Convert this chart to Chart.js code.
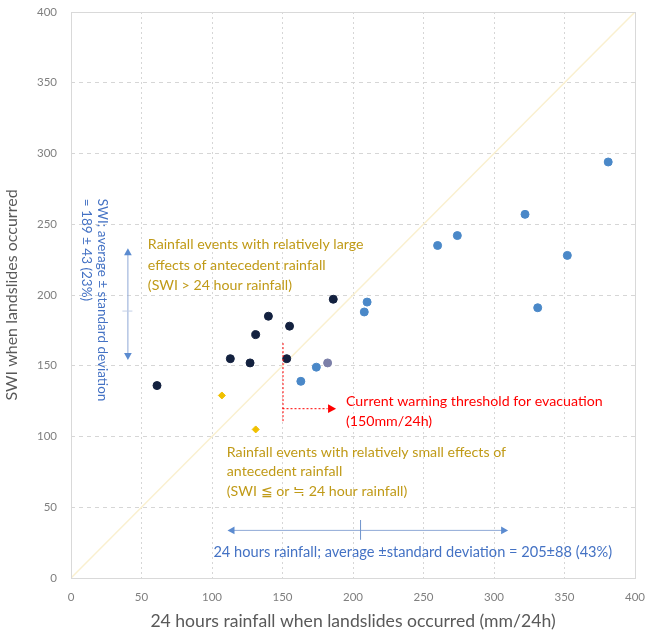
<!DOCTYPE html>
<html>
<head>
<meta charset="utf-8">
<script src="https://cdn.jsdelivr.net/npm/chart.js@4/dist/chart.umd.min.js"></script>
<style>
  html, body { margin: 0; padding: 0; background: #ffffff; }
  #wrap { width: 650px; height: 636px; position: relative; }
</style>
</head>
<body>
<div id="wrap"><canvas id="c"></canvas></div>
<script>
// Axis ticks (mm/24h and SWI share the same 0–400 range)
const axisTicks = [0, 50, 100, 150, 200, 250, 300, 350, 400];

// Events where SWI clearly exceeds 24 h rainfall
const navyRain = [61, 113, 127, 131, 140, 153, 155, 186];
const navySWI  = [136, 155, 152, 172, 185, 155, 178, 197];

// Other landslide events
const blueRain = [163, 174, 208, 210, 260, 274, 322, 331, 352, 381];
const blueSWI  = [139, 149, 188, 195, 235, 242, 257, 191, 228, 294];

// Event close to the 1:1 line
const grayRain = [182];
const graySWI  = [152];

// Events with small antecedent effect
const goldRain = [107, 131];
const goldSWI  = [129, 105];

// 1:1 reference line
const diagRain = [0, 400];
const diagSWI  = [0, 400];

// Summary statistics
const swiMean = 189, swiSD = 43;
const rainMean = 205, rainSD = 88;
const threshold = 150;

// Arrow extents as drawn on the figure
const swiArrowX = 40, swiArrowTop = 233, swiArrowBottom = 154;
const rainArrowY = 34, rainArrowLeft = 111, rainArrowRight = 310;

const pts = (xs, ys) => xs.map((x, i) => ({ x: x, y: ys[i] }));

const FONT = "Lato, 'Liberation Sans', sans-serif";

function arrowHead(ctx, x, y, angle, size) {
  ctx.save();
  ctx.translate(x, y);
  ctx.rotate(angle);
  ctx.beginPath();
  ctx.moveTo(0, 0);
  ctx.lineTo(-size, -size * 0.55);
  ctx.lineTo(-size, size * 0.55);
  ctx.closePath();
  ctx.fill();
  ctx.restore();
}

const annotations = {
  id: 'annotations',
  afterDatasetsDraw(chart) {
    const { ctx, chartArea: a } = chart;
    const xs = chart.scales.x, ys = chart.scales.y;
    const X = v => xs.getPixelForValue(v);
    const Y = v => ys.getPixelForValue(v);

    ctx.save();

    // plot frame
    ctx.strokeStyle = '#d9d9d9';
    ctx.lineWidth = 1;
    ctx.strokeRect(Math.round(a.left) + 0.5, Math.round(a.top) + 0.5,
                   Math.round(a.right - a.left), Math.round(a.bottom - a.top));

    // SWI mean ± SD (vertical double arrow)
    const blue = '#4472c4';
    ctx.strokeStyle = '#8fa9d6';
    ctx.fillStyle = '#5b8bd0';
    ctx.lineWidth = 1;
    ctx.beginPath();
    ctx.moveTo(X(swiArrowX) + 0.5, Y(swiArrowTop) + 4);
    ctx.lineTo(X(swiArrowX) + 0.5, Y(swiArrowBottom) - 4);
    ctx.stroke();
    arrowHead(ctx, X(swiArrowX) + 0.5, Y(swiArrowTop), -Math.PI / 2, 7);
    arrowHead(ctx, X(swiArrowX) + 0.5, Y(swiArrowBottom), Math.PI / 2, 7);
    ctx.strokeStyle = '#c3cfe6';
    ctx.beginPath();
    ctx.moveTo(X(swiArrowX) - 5, Y(swiMean) + 0.5);
    ctx.lineTo(X(swiArrowX) + 5, Y(swiMean) + 0.5);
    ctx.stroke();

    // rotated SWI statistics text
    ctx.fillStyle = blue;
    ctx.font = '13.5px ' + FONT;
    ctx.textAlign = 'left';
    ctx.textBaseline = 'middle';
    ctx.save();
    ctx.translate(X(22), Y(268));
    ctx.rotate(Math.PI / 2);
    ctx.fillText('SWI; average \u00b1 standard deviation', 0, 0);
    ctx.restore();
    ctx.save();
    ctx.translate(X(11), Y(268));
    ctx.rotate(Math.PI / 2);
    ctx.fillText('= ' + swiMean + ' \u00b1 ' + swiSD + ' (23%)', 0, 0);
    ctx.restore();

    // 24 h rainfall mean ± SD (horizontal double arrow)
    ctx.strokeStyle = '#8fa9d6';
    ctx.fillStyle = '#5b8bd0';
    ctx.beginPath();
    ctx.moveTo(X(rainArrowLeft) + 4, Y(rainArrowY) + 0.5);
    ctx.lineTo(X(rainArrowRight) - 4, Y(rainArrowY) + 0.5);
    ctx.stroke();
    arrowHead(ctx, X(rainArrowLeft), Y(rainArrowY) + 0.5, Math.PI, 7);
    arrowHead(ctx, X(rainArrowRight), Y(rainArrowY) + 0.5, 0, 7);
    ctx.strokeStyle = '#6f93cc';
    ctx.beginPath();
    ctx.moveTo(X(rainMean) + 0.5, Y(rainArrowY + 7));
    ctx.lineTo(X(rainMean) + 0.5, Y(rainArrowY - 7));
    ctx.stroke();

    ctx.fillStyle = blue;
    ctx.font = '14.6px ' + FONT;
    ctx.textBaseline = 'middle';
    ctx.fillText('24 hours rainfall; average \u00b1standard deviation = ' + rainMean + '\u00b1' + rainSD + ' (43%)',
                 X(101), Y(18));

    // warning threshold marker
    const red = '#ff0000';
    ctx.strokeStyle = red;
    ctx.fillStyle = red;
    ctx.setLineDash([2, 2]);
    ctx.beginPath();
    ctx.moveTo(X(threshold) + 0.5, Y(166));
    ctx.lineTo(X(threshold) + 0.5, Y(110));
    ctx.moveTo(X(threshold), Y(120) + 0.5);
    ctx.lineTo(X(182), Y(120) + 0.5);
    ctx.stroke();
    ctx.setLineDash([]);
    arrowHead(ctx, X(188), Y(120) + 0.5, 0, 8);

    ctx.font = '14.2px ' + FONT;
    ctx.fillText('Current warning threshold for evacuation', X(195), Y(125));
    ctx.fillText('(' + threshold + 'mm/24h)', X(195), Y(111));

    // event group descriptions
    ctx.fillStyle = '#c09a17';
    ctx.font = '14.2px ' + FONT;
    ctx.fillText('Rainfall events with relatively large', X(54.5), Y(236));
    ctx.fillText('effects of antecedent rainfall', X(54.5), Y(221));
    ctx.fillText('(SWI > 24 hour rainfall)', X(54.5), Y(207));

    ctx.fillText('Rainfall events with relatively small effects of', X(110.5), Y(89));
    ctx.fillText('antecedent rainfall', X(110.5), Y(75));
    ctx.fillText('(SWI \u2266 or \u2252 24 hour rainfall)', X(110.5), Y(61));

    ctx.restore();
  }
};

new Chart(document.getElementById('c'), {
  type: 'scatter',
  data: {
    datasets: [
      {
        type: 'line',
        data: pts(diagRain, diagSWI),
        borderColor: '#faf0cf',
        borderWidth: 1.5,
        pointRadius: 0,
        fill: false,
        order: 10
      },
      {
        data: pts(blueRain, blueSWI),
        backgroundColor: '#4a88c8',
        borderColor: '#4a88c8',
        pointRadius: 4,
        order: 2
      },
      {
        data: pts(grayRain, graySWI),
        backgroundColor: '#7b7fa8',
        borderColor: '#7b7fa8',
        pointRadius: 4,
        order: 2
      },
      {
        data: pts(navyRain, navySWI),
        backgroundColor: '#13213f',
        borderColor: '#13213f',
        pointRadius: 4,
        order: 1
      },
      {
        data: pts(goldRain, goldSWI),
        backgroundColor: '#f0c000',
        borderColor: '#f0c000',
        pointStyle: 'rectRot',
        pointRadius: 3.5,
        order: 1
      }
    ]
  },
  options: {
    responsive: true,
    maintainAspectRatio: false,
    animation: false,
    layout: { padding: { top: 12, right: 15, left: 0, bottom: 0 } },
    plugins: {
      legend: { display: false },
      tooltip: { enabled: false }
    },
    scales: {
      x: {
        type: 'linear',
        min: 0, max: 400,
        afterBuildTicks: s => { s.ticks = axisTicks.map(v => ({ value: v })); },
        afterFit: s => { s.height = 58; s.paddingLeft = 0; s.paddingRight = 0; },
        grid: { color: '#d6d6d6', drawTicks: false },
        border: { display: false, dash: [2, 3] },
        ticks: { color: '#7f7f7f', font: { family: FONT, size: 11.5 }, padding: 12, maxRotation: 0 },
        title: {
          display: true,
          text: '24 hours rainfall when landslides occurred (mm/24h)',
          color: '#595959',
          font: { family: FONT, size: 17.6 },
          padding: { top: 2 }
        }
      },
      y: {
        type: 'linear',
        min: 0, max: 400,
        afterBuildTicks: s => { s.ticks = axisTicks.map(v => ({ value: v })); },
        afterFit: s => { s.width = 71; s.paddingTop = 0; s.paddingBottom = 0; },
        grid: { color: '#d6d6d6', drawTicks: false },
        border: { display: false, dash: [4, 4] },
        ticks: { color: '#7f7f7f', font: { family: FONT, size: 11.5 }, padding: 14 },
        title: {
          display: true,
          text: 'SWI when landslides occurred',
          color: '#595959',
          font: { family: FONT, size: 16 },
          padding: { top: 2, bottom: 2 }
        }
      }
    }
  },
  plugins: [annotations]
});
</script>
</body>
</html>
